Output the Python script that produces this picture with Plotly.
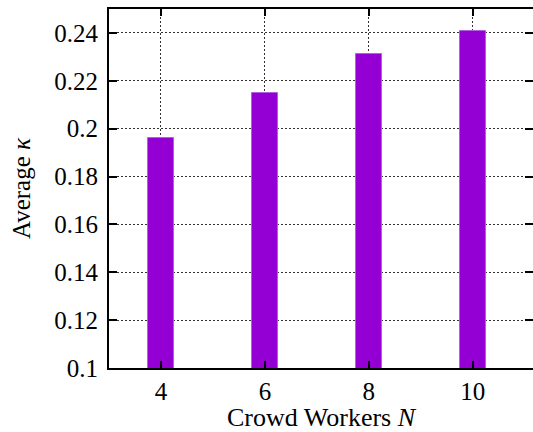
import plotly.graph_objects as go

workers = [4, 6, 8, 10]
avg_kappa = [0.196, 0.215, 0.231, 0.241]
y_ticks = [0.1, 0.12, 0.14, 0.16, 0.18, 0.2, 0.22, 0.24]
y_tick_labels = ["0.1", "0.12", "0.14", "0.16", "0.18", "0.2", "0.22", "0.24"]

FONT = "Liberation Serif, serif"
FS = 25

fig = go.Figure()
fig.add_trace(go.Bar(
    x=workers, y=avg_kappa, width=0.5,
    marker=dict(color="#9400D3", line=dict(color="#b060e0", width=1)),
    showlegend=False,
))
# invisible trace for right-side mirrored y ticks
fig.add_trace(go.Scatter(x=[workers[0]], y=[avg_kappa[0]], yaxis="y2",
                         mode="markers", marker=dict(opacity=0),
                         showlegend=False, hoverinfo="skip"))

GRID_DASH = "1.5px,2.5px"

fig.update_layout(
    width=533, height=432,
    margin=dict(l=109, r=0, t=9, b=64),
    paper_bgcolor="white", plot_bgcolor="white",
    font=dict(family=FONT, size=FS, color="black"),
    bargap=0,
    xaxis=dict(
        range=[3, 11.16], tickvals=workers, ticktext=[str(w) for w in workers],
        showline=True, linecolor="black", linewidth=2, mirror="ticks",
        ticks="inside", ticklen=7, tickcolor="black", tickwidth=1.5,
        showgrid=True, gridcolor="#333", gridwidth=1, griddash=GRID_DASH,
        zeroline=False,
        title=dict(text="Crowd Workers <i>N</i>", standoff=5,
                   font=dict(family=FONT, size=26)),
        tickfont=dict(family=FONT, size=FS),
    ),
    yaxis=dict(
        range=[0.1, 0.25], tickvals=y_ticks, ticktext=y_tick_labels,
        showline=True, linecolor="black", linewidth=2, mirror=False,
        ticks="inside", ticklen=8, tickcolor="black", tickwidth=1.5,
        showgrid=True, gridcolor="#333", gridwidth=1, griddash=GRID_DASH,
        zeroline=False, ticklabelstandoff=4,
        title=dict(text="Average <i>κ</i>", standoff=17,
                   font=dict(family=FONT, size=FS)),
        tickfont=dict(family=FONT, size=FS),
    ),
    yaxis2=dict(
        overlaying="y", side="right", matches="y", range=[0.1, 0.25],
        tickvals=y_ticks, showticklabels=False, showgrid=False,
        ticks="inside", ticklen=8, tickcolor="black", tickwidth=1.5,
        showline=False, zeroline=False, automargin=False,
    ),
)

fig.write_html(
    "out.html",
    config={"displayModeBar": False},
    post_script="document.body.style.margin='0';document.body.style.overflow='hidden';",
)
